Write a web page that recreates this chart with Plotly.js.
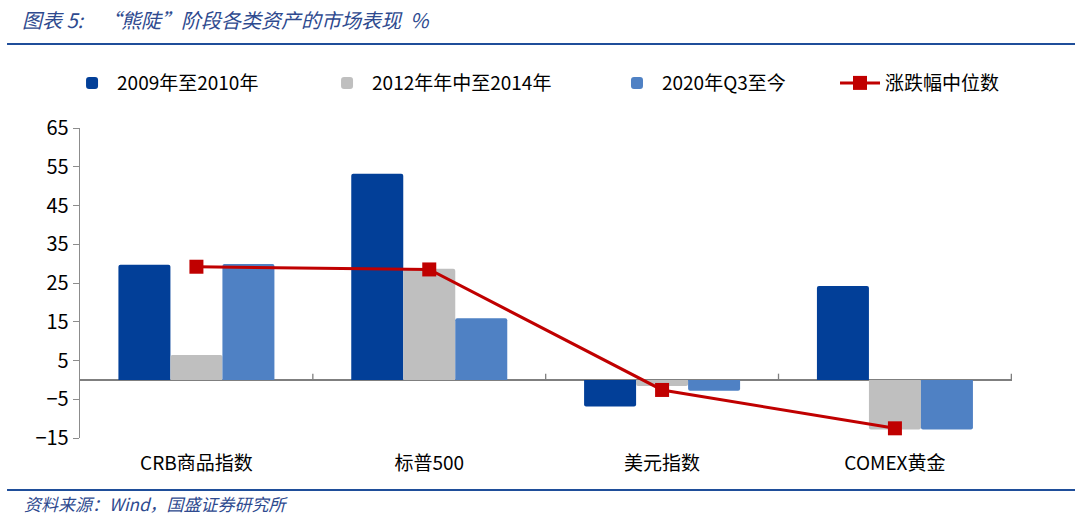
<!DOCTYPE html>
<html><head><meta charset="utf-8">
<script src="https://cdn.plot.ly/plotly-3.0.1.min.js"></script>
<style>body{margin:0;background:#fff}#c{width:1080px;height:528px}</style>
</head><body><div id="c"></div>
<script>
const categories = ["CRB商品指数", "标普500", "美元指数", "COMEX黄金"];
const seriesNames = ["2009年至2010年", "2012年年中至2014年", "2020年Q3至今", "涨跌幅中位数"];
const s2009 = [29.7, 53.2, -6.9, 24.2];
const s2012 = [6.4, 28.7, -1.6, -12.8];
const s2020 = [29.9, 15.9, -2.8, -12.8];
const median = [29.2, 28.5, -2.6, -12.5];
const yTicks = [-15, -5, 5, 15, 25, 35, 45, 55, 65];

const FONT = "'Noto Sans CJK SC', sans-serif";
const barColors = ["#023F98", "#BFBFBF", "#4F81C4"];
const legendIds = ["legend", "legend2", "legend3", "legend4"];
const traces = [s2009, s2012, s2020].map((v, i) => ({
  type: "bar", name: seriesNames[i], x: categories, y: v, legend: legendIds[i],
  marker: {color: barColors[i], cornerradius: 2}, hoverinfo: "skip"
}));
traces.push({
  type: "scatter", mode: "lines+markers", name: seriesNames[3], x: categories, y: median, legend: legendIds[3],
  line: {color: "#C00000", width: 3}, marker: {symbol: "square", size: 14, color: "#C00000"}
});

const legendX = [-0.0139, 0.2597, 0.5708, 0.8101];
const mkLegend = x => ({orientation: "h", x: x, xanchor: "left", y: 1.145, yanchor: "middle",
  font: {size: 19, family: FONT}, itemwidth: 40, bgcolor: "rgba(0,0,0,0)"});

const layout = {
  width: 1080, height: 528,
  margin: {l: 80, r: 68, t: 128, b: 90},
  paper_bgcolor: "#fff", plot_bgcolor: "#fff",
  font: {family: FONT, size: 18, color: "#000"},
  barmode: "group", bargap: 0.33, bargroupgap: 0,
  showlegend: true,
  legend: mkLegend(legendX[0]), legend2: mkLegend(legendX[1]),
  legend3: mkLegend(legendX[2]), legend4: mkLegend(legendX[3]),
  title: {text: "图表 5:    “熊陡”阶段各类资产的市场表现  %", x: 22/1080, xanchor: "left", xref: "container",
          y: 1 - 21/528, yanchor: "middle", yref: "container",
          font: {family: FONT, size: 20, color: "#2E4A8F", style: "italic"}},
  xaxis: {type: "category", showline: false, ticks: "", zeroline: false, showgrid: false,
          ticklabelstandoff: 12, tickfont: {size: 19}},
  yaxis: {range: [-15, 65], tickvals: yTicks, showgrid: false, zeroline: true,
          zerolinecolor: "#7F7F7F", zerolinewidth: 1.3,
          showline: true, linecolor: "#8C8C8C", linewidth: 1.3, ticks: "outside", ticklen: 6,
          tickcolor: "#8C8C8C", tickfont: {size: 20}},
  shapes: [
    {type: "line", xref: "paper", yref: "paper", x0: -0.0783, x1: 1.0676, y0: 1.271, y1: 1.271,
     line: {color: "#1F4E9A", width: 2}},
    {type: "line", xref: "paper", yref: "paper", x0: -0.0783, x1: 1.0676, y0: -0.1677, y1: -0.1677,
     line: {color: "#1F4E9A", width: 2}},
    ...[0.5, 1.5, 2.5, 3.5].map(p => ({type: "line", xref: "x", yref: "y", x0: p, x1: p, y0: 0, y1: 1.6,
      line: {color: "#7F7F7F", width: 1.3}}))
  ],
  annotations: [
    {text: "资料来源：Wind，国盛证券研究所", xref: "paper", yref: "paper", x: -0.062, y: -0.21,
     xanchor: "left", yanchor: "middle", showarrow: false,
     font: {family: FONT, size: 17, color: "#2E4A8F", style: "italic"}}
  ]
};
Plotly.newPlot("c", traces, layout, {displayModeBar: false, staticPlot: true});
</script></body></html>
